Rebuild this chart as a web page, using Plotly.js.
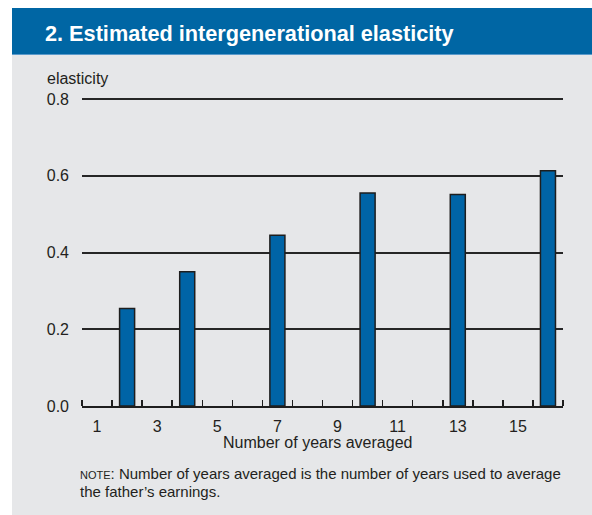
<!DOCTYPE html>
<html>
<head>
<meta charset="utf-8">
<script src="https://cdn.plot.ly/plotly-3.0.1.min.js"></script>
<style>
  html, body { margin:0; padding:0; background:#ffffff; }
  #wrap { position:relative; width:592px; height:515px; overflow:hidden; }
  #titlebar { position:absolute; left:12px; top:8px; width:580px; height:46px;
    background:#0066a4; border-bottom:1px solid #5a9acb; color:#ffffff;
    font-family:"Liberation Sans", Arial, sans-serif; font-weight:bold; font-size:21.7px;
    line-height:46px; box-sizing:content-box; }
  #titlebar span { position:absolute; left:33px; top:3px; }
  #chart { position:absolute; left:12px; top:55px; width:580px; height:460px; }
</style>
</head>
<body>
<div id="wrap">
  <div id="titlebar"><span>2. Estimated intergenerational elasticity</span></div>
  <div id="chart"></div>
</div>
<script>
// Data
const yearsAveraged = [2, 4, 7, 10, 13, 16];
const elasticity = [0.254, 0.35, 0.445, 0.555, 0.551, 0.613];
const xTickVals = [1, 3, 5, 7, 9, 11, 13, 15];
const xTickText = ["1", "3", "5", "7", "9", "11", "13", "15"];
const yTickVals = [0, 0.2, 0.4, 0.6, 0.8];
const yTickText = ["0.0", "0.2", "0.4", "0.6", "0.8"];
const noteLine1 = "<span style=\"font-size:11px\">NOTE</span>: Number of years averaged is the number of years used to average";
const noteLine2 = "the father\u2019s earnings.";

const boundaryTicks = [];
for (let v = 0.5; v <= 16.5; v += 1) boundaryTicks.push(v);

const FONT = "Liberation Sans, Arial, sans-serif";
const INK = "#231f20";

const trace = {
  type: "bar",
  x: yearsAveraged,
  y: elasticity,
  width: 0.5,
  marker: { color: "#0064a6", line: { color: "#1e1e1e", width: 1.5 } },
  hoverinfo: "x+y"
};

const layout = {
  width: 580,
  height: 460,
  margin: { l: 70, r: 29, t: 43, b: 109, pad: 0 },
  paper_bgcolor: "#e6e7e9",
  plot_bgcolor: "#e6e7e9",
  showlegend: false,
  font: { family: FONT, size: 16, color: INK },
  xaxis: {
    range: [0.5, 16.5],
    tickmode: "array",
    tickvals: xTickVals,
    ticktext: xTickText,
    ticks: "",
    showgrid: false,
    zeroline: false,
    showline: true,
    linecolor: "#1e1e1e",
    linewidth: 2,
    tickfont: { family: FONT, size: 16, color: INK },
    ticklabelstandoff: 5,
    minor: {
      tickmode: "array",
      tickvals: boundaryTicks,
      ticks: "inside",
      ticklen: 6,
      tickwidth: 1.5,
      tickcolor: "#1e1e1e",
      showgrid: false
    },
    fixedrange: true
  },
  yaxis: {
    range: [0, 0.8028],
    tickmode: "array",
    tickvals: yTickVals,
    ticktext: yTickText,
    ticks: "",
    showgrid: true,
    gridcolor: "#262626",
    gridwidth: 2,
    zeroline: false,
    showline: false,
    tickfont: { family: FONT, size: 16, color: INK },
    ticklabelstandoff: 12,
    fixedrange: true
  },
  annotations: [
    {
      text: "elasticity",
      xref: "paper", yref: "paper",
      x: -0.077, y: 1.062,
      xanchor: "left", yanchor: "middle",
      showarrow: false,
      font: { family: FONT, size: 16, color: INK }
    },
    {
      text: "Number of years averaged",
      xref: "paper", yref: "paper",
      x: 0.49, y: -0.117,
      xanchor: "center", yanchor: "middle",
      showarrow: false,
      font: { family: FONT, size: 16, color: INK }
    },
    {
      text: noteLine1,
      xref: "paper", yref: "paper",
      x: -0.009, y: -0.219,
      xanchor: "left", yanchor: "middle",
      align: "left",
      showarrow: false,
      font: { family: FONT, size: 15, color: INK }
    },
    {
      text: noteLine2,
      xref: "paper", yref: "paper",
      x: -0.009, y: -0.279,
      xanchor: "left", yanchor: "middle",
      align: "left",
      showarrow: false,
      font: { family: FONT, size: 15, color: INK }
    }
  ]
};

Plotly.newPlot("chart", [trace], layout, { displayModeBar: false, staticPlot: true });
</script>
</body>
</html>
